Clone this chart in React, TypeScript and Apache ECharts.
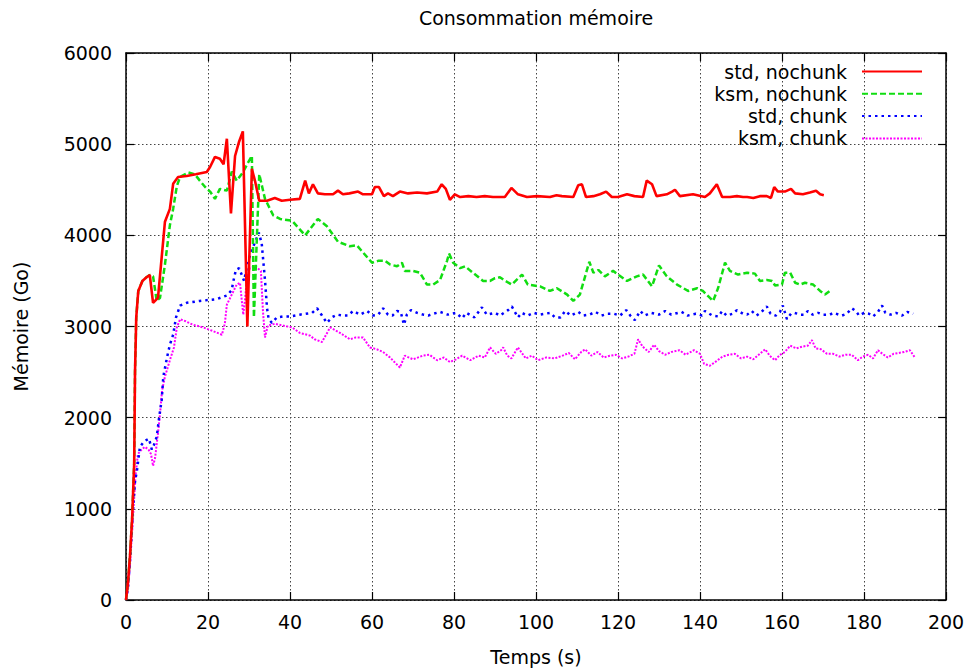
import React, { useEffect, useRef } from "react";
import * as echarts from "echarts";

const FONT = "DejaVu Sans, Liberation Sans, sans-serif";

const xTicks = [0, 200, 20];
const yTicks = [0, 6000, 1000];

const seriesNames = ["std, nochunk", "ksm, nochunk", "std, chunk", "ksm, chunk"];
const seriesColors = ["#ff0000", "#11dd11", "#0000ff", "#ff00ff"];

const stdNochunk = [
  [0, 0], [0.5, 200], [1, 500], [1.5, 900], [2, 1500], [2.2, 2500], [2.5, 3100], [3, 3390], [4, 3500], [5, 3540], [5.8, 3565],
  [6.6, 3260], [7.8, 3315], [9.5, 4150], [10.7, 4290], [11.5, 4565], [12.7, 4640], [14.8, 4650], [17, 4670], [19.7, 4695],
  [20.5, 4750], [21.7, 4860], [22.9, 4840], [23.8, 4780], [24.6, 5060], [25.6, 4240], [26.6, 4870], [27.6, 5030], [28.5, 5140],
  [29.6, 3000], [30.7, 4730], [31.5, 4590], [32.5, 4380], [34.4, 4380], [36.3, 4410], [38, 4380], [40, 4390], [42.4, 4400],
  [43.7, 4600], [44.6, 4460], [45.6, 4560], [46.8, 4460], [48.5, 4450], [50.5, 4450], [51.7, 4490], [52.9, 4450], [54.5, 4460],
  [56.6, 4480], [57.8, 4450], [60, 4450], [60.7, 4530], [61.7, 4530], [62.9, 4430], [63.9, 4460], [65.1, 4430], [66.8, 4480],
  [68.8, 4460], [71, 4470], [73.4, 4460], [75.9, 4480], [77, 4560], [78, 4510], [79, 4390], [80.2, 4450], [81.5, 4420],
  [83.5, 4430], [85.5, 4420], [87.5, 4430], [89.5, 4420], [91.2, 4420], [92.4, 4420], [94, 4520], [95.6, 4450], [97.8, 4420],
  [100.2, 4430], [103.4, 4420], [105, 4440], [106.3, 4430], [109.1, 4420], [110.3, 4550], [111.2, 4560], [112.2, 4420],
  [114, 4430], [115.6, 4450], [117.1, 4480], [118.5, 4420], [120, 4420], [122.2, 4450], [124, 4430], [126.1, 4420], [127, 4600],
  [128.3, 4560], [129.4, 4430], [131.9, 4450], [133.2, 4480], [133.9, 4500], [135.1, 4430], [138.3, 4450], [141.2, 4420],
  [142.4, 4460], [144.1, 4560], [145.4, 4420], [147.3, 4420], [149, 4430], [150.5, 4420], [151.5, 4420], [153, 4410],
  [154.6, 4430], [156.3, 4430], [157.3, 4410], [158.1, 4530], [159, 4480], [160.7, 4480], [162.2, 4510], [163.2, 4460],
  [165.1, 4450], [166.8, 4470], [168.3, 4490], [169.3, 4450], [170.2, 4440],
];

const ksmNochunk = [
  [0, 0], [0.5, 200], [1, 500], [1.5, 900], [2, 1500], [2.2, 2500], [2.5, 3100], [3, 3390], [4, 3500], [5, 3540], [5.8, 3565],
  [6.6, 3550], [7.5, 3280], [8.3, 3315], [9.5, 3680], [10.7, 4110], [11.5, 4290], [12.4, 4540], [13.2, 4640], [15.2, 4690],
  [16.8, 4670], [18, 4600], [19.3, 4530], [20.5, 4480], [21.7, 4400], [22.9, 4510], [24.6, 4490], [25.8, 4700], [27, 4600],
  [28.5, 4690], [29.8, 4800], [30.7, 4870], [31.2, 3100], [32.5, 4670], [33.9, 4400], [35.9, 4220], [37.6, 4180], [40.5, 4160],
  [43.7, 4000], [46.8, 4180], [49, 4100], [51.7, 3930], [54.6, 3880], [56.3, 3890], [60, 3700], [61.5, 3720], [63.2, 3720],
  [64.4, 3680], [66.1, 3660], [67.3, 3700], [68, 3610], [70, 3610], [71.7, 3590], [73.4, 3460], [74.9, 3460], [76.6, 3510],
  [78.3, 3720], [78.8, 3800], [79.8, 3700], [81.5, 3640], [82.7, 3660], [84.6, 3590], [87.1, 3500], [88.8, 3500], [90, 3530],
  [91.2, 3540], [92.5, 3500], [94.1, 3460], [96.6, 3570], [98, 3460], [101, 3440], [103.4, 3390], [105.1, 3420], [107.6, 3350],
  [109.1, 3280], [110.7, 3350], [113, 3710], [114, 3590], [115.2, 3620], [116.8, 3550], [118.8, 3610], [122.2, 3500],
  [124.6, 3550], [126.1, 3570], [128.3, 3440], [130, 3670], [131.9, 3550], [134.4, 3460], [137.1, 3390], [139.3, 3420],
  [140.7, 3390], [143.2, 3280], [144.4, 3420], [146.1, 3700], [147.3, 3610], [149.3, 3570], [151.5, 3590], [153.4, 3580],
  [154.6, 3500], [156.3, 3510], [157.6, 3500], [158.3, 3450], [160, 3460], [160.7, 3590], [162, 3590], [163.2, 3480],
  [164.4, 3460], [165.6, 3480], [167.6, 3460], [169.3, 3390], [170.5, 3350], [171.7, 3390],
];

const stdChunk = [
  [0, 0], [0.5, 150], [1, 450], [1.7, 1000], [2.2, 1300], [2.7, 1430], [3.4, 1680], [4.4, 1740], [5.6, 1770], [6.3, 1650],
  [6.8, 1700], [7.5, 1790], [8.1, 2010], [8.7, 2190], [9.1, 2450], [10, 2660], [10.7, 2800], [11.5, 2910], [12.2, 3100],
  [13.2, 3230], [14.8, 3260], [18, 3280], [22.1, 3300], [24.6, 3340], [25.8, 3400], [26.1, 3480], [26.8, 3620], [27.6, 3640],
  [28.2, 3570], [28.8, 3500], [29.8, 3720], [30.7, 3840], [31.9, 3970], [32.4, 4030], [33.1, 3910], [33.9, 3510], [34.4, 3200],
  [34.8, 3080], [35.6, 3040], [36.8, 3100], [38.3, 3110], [40, 3110], [42.4, 3130], [45.4, 3150], [46.6, 3200], [47.8, 3120],
  [49, 3040], [50.2, 3100], [51.5, 3130], [52.9, 3120], [54.1, 3120], [55.4, 3170], [57.1, 3130], [58.8, 3170], [60.2, 3120],
  [61.5, 3130], [62.7, 3200], [63.9, 3130], [65, 3120], [66.1, 3170], [67, 3160], [67.8, 3020], [68.5, 3130], [69.5, 3180],
  [71, 3150], [72.5, 3130], [73.7, 3120], [75, 3140], [76.6, 3160], [78.5, 3130], [80.5, 3150], [82, 3090], [83, 3150],
  [85, 3100], [86.8, 3210], [88, 3130], [90, 3150], [91.2, 3120], [93.2, 3180], [94.1, 3220], [95.6, 3100], [96.5, 3150],
  [98, 3120], [99.5, 3150], [101, 3130], [103.5, 3150], [104.6, 3100], [106, 3100], [107.1, 3170], [108.5, 3120], [110.3, 3160],
  [111.5, 3120], [113, 3130], [114.5, 3160], [116, 3120], [117.5, 3140], [119, 3140], [120.5, 3120], [122, 3180], [123, 3120],
  [124.1, 3070], [125.4, 3170], [126.5, 3120], [128, 3150], [130, 3130], [131.5, 3170], [133, 3130], [135.5, 3160], [137, 3120],
  [139, 3140], [140.5, 3120], [141.2, 3170], [143, 3120], [144.5, 3110], [145.4, 3170], [146.5, 3120], [148, 3140], [149, 3180],
  [150.5, 3140], [151.5, 3130], [152.6, 3170], [153.8, 3120], [155, 3160], [156.3, 3220], [157.2, 3140], [158.5, 3120],
  [159.5, 3160], [160.2, 3230], [161.2, 3080], [162.2, 3140], [163, 3150], [164.5, 3130], [165.5, 3130], [166.3, 3170],
  [167.5, 3130], [168.8, 3150], [170, 3130], [171.7, 3130], [172.5, 3150], [174.6, 3120], [175.8, 3140], [177, 3200],
  [178, 3170], [178.8, 3120], [180, 3150], [181.2, 3140], [182.2, 3110], [183.4, 3160], [184.4, 3230], [185.2, 3150],
  [186.5, 3130], [187.8, 3150], [189.3, 3120], [190.5, 3160], [192, 3140],
];

const ksmChunk = [
  [0, 0], [0.5, 120], [1, 400], [1.7, 900], [2.3, 1350], [2.9, 1600], [3.8, 1650], [4.6, 1680], [5.5, 1650], [6.1, 1600],
  [6.6, 1470], [7.1, 1560], [7.8, 1830], [8.3, 2040], [8.8, 2300], [9.5, 2450], [10.7, 2630], [11.7, 2770], [12.4, 2990],
  [13.2, 3080], [14.4, 3060], [16.3, 3020], [18.8, 2990], [21.2, 2950], [23.4, 2910], [24.1, 3030], [24.6, 3240], [25.8, 3350],
  [27, 3460], [27.8, 3480], [28.6, 3130], [29, 3280], [29.5, 3530], [30.2, 3640], [31.5, 3660], [32.9, 3610], [33.4, 3170],
  [33.9, 2880], [34.6, 3010], [36.3, 3030], [38.3, 3010], [40.5, 2990], [42.4, 2930], [44.9, 2900], [46, 2860], [47.8, 2830],
  [49.8, 2990], [52.2, 2930], [54.6, 2860], [56, 2880], [57.8, 2880], [59.5, 2770], [61.2, 2750], [62.7, 2720], [64.4, 2660],
  [66.8, 2550], [68, 2680], [70, 2640], [72.4, 2680], [74, 2690], [75.9, 2630], [77.5, 2660], [79, 2610], [80.5, 2640],
  [82, 2680], [84, 2630], [86, 2680], [87.5, 2660], [88.8, 2770], [90.2, 2700], [91.5, 2740], [92, 2770], [93, 2680],
  [94, 2650], [95.6, 2770], [97.5, 2650], [99, 2680], [100.5, 2630], [102.5, 2660], [104.5, 2650], [106.5, 2680], [108, 2710],
  [109.5, 2640], [111, 2720], [112, 2750], [113.5, 2680], [115, 2720], [116.5, 2660], [118, 2680], [119.5, 2690], [121, 2650],
  [122.5, 2670], [124, 2700], [124.9, 2860], [126, 2780], [127.5, 2720], [128.8, 2800], [130, 2730], [131.5, 2690], [133, 2720],
  [135, 2740], [136.5, 2690], [138.5, 2740], [140, 2700], [141, 2590], [142.4, 2570], [144, 2620], [145.5, 2670], [147, 2690],
  [148.5, 2700], [150, 2650], [151.5, 2670], [153, 2640], [154.6, 2700], [155.9, 2750], [157, 2680], [158.3, 2630], [159.5, 2690],
  [160.7, 2720], [162, 2790], [163.5, 2760], [165, 2780], [166.3, 2790], [167.3, 2850], [168.2, 2760], [169.5, 2750], [171, 2700],
  [172.5, 2700], [174, 2670], [175.5, 2690], [177, 2690], [178.5, 2630], [179.7, 2670], [181, 2690], [182.2, 2650], [183.4, 2740],
  [184.5, 2700], [185.8, 2660], [187.2, 2700], [188.5, 2710], [189.8, 2720], [191.2, 2740], [192.4, 2660],
];

const seriesData = [stdNochunk, ksmNochunk, stdChunk, ksmChunk];
const seriesDash: any[] = ["solid", [6, 3], [2.5, 4], [2, 1.5]];
const seriesWidth = [2.6, 2.5, 2.5, 2];

export default function App() {
  const ref = useRef<HTMLDivElement>(null);

  useEffect(() => {
    document.body.style.margin = "0";
    const chart = echarts.init(ref.current!, null, { renderer: "svg" });
    const axisCommon = {
      type: "value",
      axisLine: { show: true, onZero: false, lineStyle: { color: "#000", width: 1.5 } },
      axisTick: { show: true, inside: true, length: 8, lineStyle: { color: "#000", width: 1.2 } },
    };
    const gridLine = { show: true, lineStyle: { color: "#444", type: [1.5, 2.5], width: 1 } };
    const plain = (v: number) => String(v);
    const option: any = {
      animation: false,
      backgroundColor: "#ffffff",
      textStyle: { fontFamily: FONT },
      graphic: [
        {
          type: "text",
          x: 536,
          y: 18,
          style: {
            text: "Consommation mémoire",
            fontSize: 19,
            fontFamily: FONT,
            fill: "#000",
            textAlign: "center",
            textVerticalAlign: "middle",
          },
        },
      ],
      grid: { left: 126, right: 25, top: 53, bottom: 66, containLabel: false },
      xAxis: [
        {
          ...axisCommon,
          position: "bottom",
          min: xTicks[0],
          max: xTicks[1],
          interval: xTicks[2],
          name: "Temps (s)",
          nameLocation: "middle",
          nameGap: 47,
          nameTextStyle: { fontSize: 19, color: "#000", fontFamily: FONT },
          axisLabel: { fontSize: 19, color: "#000", margin: 12, fontFamily: FONT, formatter: plain },
          splitLine: gridLine,
        },
        {
          ...axisCommon,
          position: "top",
          min: xTicks[0],
          max: xTicks[1],
          interval: xTicks[2],
          axisLabel: { show: false },
          splitLine: { show: false },
        },
      ],
      yAxis: [
        {
          ...axisCommon,
          position: "left",
          min: yTicks[0],
          max: yTicks[1],
          interval: yTicks[2],
          name: "Mémoire (Go)",
          nameLocation: "middle",
          nameGap: 96,
          nameTextStyle: { fontSize: 19, color: "#000", fontFamily: FONT },
          axisLabel: { fontSize: 19, color: "#000", margin: 14, fontFamily: FONT, formatter: plain },
          splitLine: gridLine,
        },
        {
          ...axisCommon,
          position: "right",
          min: yTicks[0],
          max: yTicks[1],
          interval: yTicks[2],
          axisLabel: { show: false },
          splitLine: { show: false },
        },
      ],
      legend: seriesNames.map((n, i) => ({
        data: [n],
        right: 48,
        top: 62 + i * 22.3,
        orient: "horizontal",
        align: "right",
        itemWidth: 60,
        itemHeight: 14,
        padding: 0,
        selectedMode: false,
        itemStyle: { opacity: 0 },
        textStyle: { fontSize: 19, color: "#000", fontFamily: FONT, padding: [0, 10, 0, 0] },
      })),
      series: seriesNames.map((n, i) => ({
        name: n,
        type: "line",
        data: seriesData[i],
        showSymbol: false,
        symbol: "none",
        xAxisIndex: 0,
        yAxisIndex: 0,
        color: seriesColors[i],
        lineStyle: { color: seriesColors[i], width: seriesWidth[i], type: seriesDash[i] },
        z: 10 - i,
      })),
    };
    chart.setOption(option);
    return () => chart.dispose();
  }, []);

  return <div ref={ref} style={{ width: 971, height: 671 }} />;
}
